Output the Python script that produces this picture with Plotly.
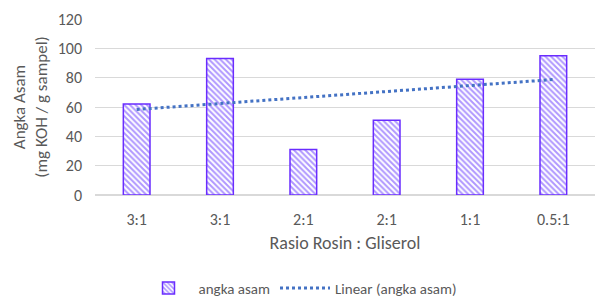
import numpy as np
import plotly.graph_objects as go

categories = ["3:1", "3:1", "2:1", "2:1", "1:1", "0.5:1"]
angka_asam = [62, 93, 31, 51, 79, 95]
y_ticks = [0, 20, 40, 60, 80, 100, 120]

x_idx = np.arange(len(categories))
slope, intercept = np.polyfit(x_idx + 1, angka_asam, 1)
trend = slope * (x_idx + 1) + intercept

FONT = "Carlito, Calibri, Lato, sans-serif"

fig = go.Figure()
fig.add_trace(go.Bar(
    x=x_idx, y=angka_asam, name="angka asam", width=0.32,
    marker=dict(color="white", line=dict(color="#6a2cff", width=1.5),
                pattern=dict(shape="\\", fgcolor="#5f30ff", bgcolor="white",
                             size=4, solidity=0.5)),
))
fig.add_trace(go.Scatter(
    x=x_idx, y=trend, mode="lines", name="Linear (angka asam)",
    line=dict(color="#4472C4", width=3, dash="dot"),
))

fig.update_layout(
    width=596, height=297,
    margin=dict(l=95, r=1, t=19, b=102, autoexpand=False),
    plot_bgcolor="white", paper_bgcolor="white",
    font=dict(family=FONT, color="#595959"),
    showlegend=True,
    legend=dict(orientation="h", x=0.41, xanchor="center", y=-0.53, yanchor="middle",
                font=dict(size=15, color="#595959"), itemwidth=50),
    bargap=0.6,
)
fig.update_xaxes(
    tickmode="array", tickvals=list(x_idx), ticktext=categories,
    range=[-0.5, len(categories) - 0.5],
    tickfont=dict(size=16, color="#595959"),
    title=dict(text="Rasio Rosin : Gliserol", font=dict(size=18, color="#595959"), standoff=8),
    showline=True, linecolor="#d9d9d9", linewidth=1, ticks="",
    ticklabelstandoff=10,
)
fig.update_yaxes(
    range=[0, 120], tickvals=y_ticks,
    tickfont=dict(size=16, color="#595959"),
    gridcolor="#d9d9d9", gridwidth=1, zeroline=True, zerolinecolor="#d9d9d9",
    title=dict(text="Angka Asam<br>(mg KOH / g sampel)", font=dict(size=17, color="#595959"), standoff=5),
    ticklabelstandoff=12,
)

fig.write_html("out.html", config={"displayModeBar": False},
               post_script="document.body.style.margin='0';document.body.style.padding='0';")
